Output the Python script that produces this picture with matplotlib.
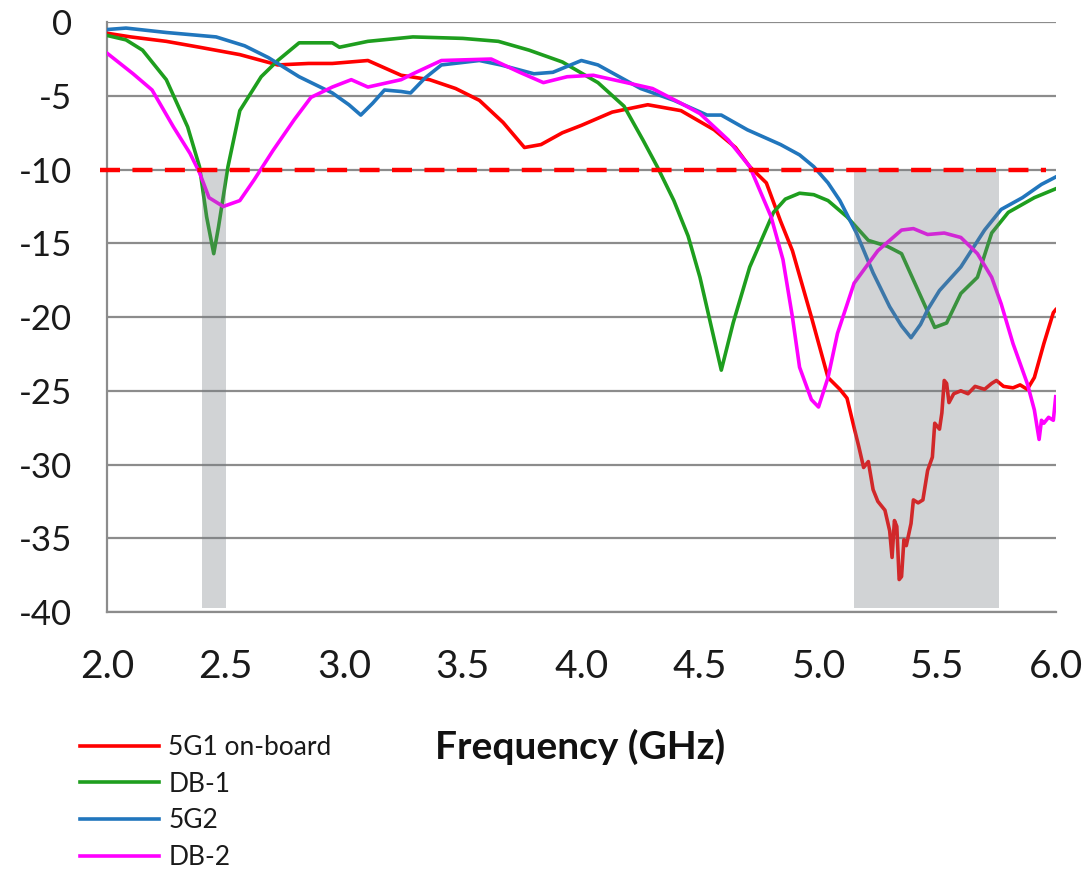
import matplotlib
matplotlib.use("Agg")
import matplotlib.pyplot as plt

# ---------------- data ----------------
f_red = [2.00, 2.10, 2.25, 2.39, 2.56, 2.72, 2.85, 2.95, 3.10, 3.24, 3.36, 3.47, 3.57, 3.67, 3.76, 3.83,
         3.92, 4.00, 4.13, 4.28, 4.42, 4.56, 4.65, 4.71, 4.78, 4.84, 4.89, 4.97, 5.04, 5.09, 5.12, 5.15,
         5.17, 5.19, 5.21, 5.23, 5.25, 5.28, 5.30, 5.31, 5.32, 5.33, 5.34, 5.35, 5.36, 5.37, 5.39, 5.40,
         5.42, 5.44, 5.46, 5.48, 5.49, 5.51, 5.52, 5.53, 5.54, 5.55, 5.57, 5.60, 5.63, 5.66, 5.70, 5.73,
         5.75, 5.78, 5.82, 5.85, 5.88, 5.91, 5.95, 5.99, 6.00]
s_red = [-0.75, -1.0, -1.3, -1.7, -2.2, -2.9, -2.8, -2.8, -2.6, -3.6, -3.9, -4.5, -5.3, -6.8, -8.5, -8.3,
         -7.5, -7.0, -6.1, -5.6, -6.0, -7.3, -8.5, -9.8, -10.9, -13.5, -15.5, -20.0, -24.1, -24.9, -25.5, -27.5,
         -28.8, -30.2, -29.8, -31.7, -32.5, -33.1, -34.5, -36.3, -33.8, -34.2, -37.8, -37.6, -35.1, -35.5, -34.0, -32.4,
         -32.6, -32.4, -30.4, -29.5, -27.2, -27.6, -26.5, -24.3, -24.5, -25.8, -25.2, -25.0, -25.2, -24.7, -24.9, -24.5,
         -24.3, -24.7, -24.8, -24.6, -24.9, -24.1, -21.8, -19.7, -19.5]

f_green = [2.00, 2.08, 2.15, 2.25, 2.34, 2.39, 2.42, 2.45, 2.47, 2.51, 2.56, 2.65, 2.72, 2.81, 2.95, 2.98,
           3.10, 3.29, 3.50, 3.65, 3.78, 3.92, 4.07, 4.18, 4.26, 4.32, 4.39, 4.45, 4.50, 4.55, 4.59, 4.64,
           4.71, 4.81, 4.86, 4.92, 4.98, 5.04, 5.12, 5.21, 5.29, 5.35, 5.42, 5.49, 5.54, 5.60, 5.67, 5.73,
           5.80, 5.91, 6.00]
s_green = [-0.9, -1.2, -1.9, -3.9, -7.1, -9.8, -13.2, -15.7, -13.9, -9.8, -6.0, -3.7, -2.6, -1.4, -1.4, -1.7,
           -1.3, -1.0, -1.1, -1.3, -1.9, -2.7, -4.1, -5.7, -8.0, -9.8, -12.1, -14.5, -17.3, -20.8, -23.6, -20.4,
           -16.6, -12.9, -12.0, -11.6, -11.7, -12.1, -13.2, -14.8, -15.2, -15.7, -18.2, -20.7, -20.4, -18.4, -17.3, -14.3,
           -12.9, -11.9, -11.3]

f_blue = [2.00, 2.08, 2.25, 2.46, 2.58, 2.68, 2.81, 2.95, 3.02, 3.07, 3.12, 3.17, 3.24, 3.28, 3.34, 3.41,
          3.57, 3.66, 3.80, 3.88, 4.00, 4.07, 4.25, 4.39, 4.53, 4.59, 4.70, 4.84, 4.92, 4.98, 5.04, 5.09,
          5.16, 5.23, 5.30, 5.35, 5.39, 5.43, 5.46, 5.51, 5.60, 5.70, 5.77, 5.86, 5.94, 6.00]
s_blue = [-0.5, -0.4, -0.7, -1.0, -1.6, -2.4, -3.7, -4.8, -5.6, -6.3, -5.5, -4.6, -4.7, -4.8, -3.8, -2.9,
          -2.6, -2.9, -3.5, -3.4, -2.6, -2.9, -4.5, -5.3, -6.3, -6.3, -7.3, -8.3, -9.0, -9.8, -10.9, -12.1,
          -14.3, -17.0, -19.3, -20.6, -21.4, -20.5, -19.5, -18.2, -16.6, -14.1, -12.7, -11.9, -11.0, -10.5]

f_mag = [2.00, 2.11, 2.19, 2.28, 2.35, 2.39, 2.43, 2.49, 2.56, 2.62, 2.70, 2.79, 2.86, 2.95, 3.03, 3.10,
         3.24, 3.29, 3.41, 3.62, 3.74, 3.84, 3.94, 4.05, 4.19, 4.30, 4.42, 4.50, 4.62, 4.71, 4.80, 4.85,
         4.89, 4.92, 4.97, 5.00, 5.04, 5.08, 5.15, 5.25, 5.35, 5.40, 5.46, 5.53, 5.60, 5.67, 5.73, 5.77,
         5.82, 5.88, 5.91, 5.93, 5.94, 5.95, 5.97, 5.99, 6.00]
s_mag = [-2.1, -3.5, -4.6, -7.1, -8.9, -10.2, -11.9, -12.5, -12.1, -10.7, -8.7, -6.6, -5.1, -4.4, -3.9, -4.4,
         -3.9, -3.5, -2.6, -2.5, -3.4, -4.1, -3.7, -3.6, -4.1, -4.5, -5.5, -6.2, -8.0, -9.8, -13.2, -16.1,
         -20.0, -23.4, -25.6, -26.1, -24.1, -21.1, -17.7, -15.5, -14.1, -14.0, -14.4, -14.3, -14.6, -15.7, -17.3, -19.1,
         -21.8, -24.5, -26.3, -28.3, -27.0, -27.2, -26.8, -27.0, -25.4]

series_names = ["5G1 on-board", "DB-1", "5G2", "DB-2"]
series_colors = ["#ff0000", "#1e9e1e", "#2176bd", "#ff00ff"]

bands = [(2.40, 2.50), (5.15, 5.76)]
threshold = -10
x_ticks = [2.0, 2.5, 3.0, 3.5, 4.0, 4.5, 5.0, 5.5, 6.0]
y_ticks = [0, -5, -10, -15, -20, -25, -30, -35, -40]

# ---------------- plot ----------------
plt.rcParams['font.family'] = ['Lato', 'DejaVu Sans']

fig = plt.figure(figsize=(10.83, 8.73), dpi=100)
ax = fig.add_axes([0.0988, 0.299, 0.876, 0.6756])

ax.set_xlim(2.0, 6.0)
ax.set_ylim(-40, 0)

grid_c = "#8c8c8c"
for yv in y_ticks:
    ax.axhline(yv, color=grid_c, lw=1.6, zorder=1)

data = [(f_red, s_red), (f_green, s_green), (f_blue, s_blue), (f_mag, s_mag)]
handles = []
for (fx, sy), name, col in zip(data, series_names, series_colors):
    h, = ax.plot(fx, sy, color=col, lw=2.6, label=name, zorder=3, solid_joinstyle='round')
    handles.append(h)

for (a, b) in bands:
    ax.fill_between([a, b], [-39.7, -39.7], [threshold, threshold], color="#757b81",
                    alpha=0.333, lw=0, zorder=4)

ax.plot([1.97, 5.96], [threshold, threshold], color="#ff0000", lw=3.2,
        dashes=(4.5, 2.8), zorder=5, clip_on=False)

for sp in ["top", "right"]:
    ax.spines[sp].set_visible(False)
for sp in ["left", "bottom"]:
    ax.spines[sp].set_color(grid_c)
    ax.spines[sp].set_linewidth(1.6)

ax.set_xticks(x_ticks)
ax.set_xticklabels([f"{v:.1f}" for v in x_ticks])
ax.set_yticks(y_ticks)
ax.set_yticklabels([f"{v}" for v in y_ticks])
ax.tick_params(axis='both', length=0, colors="#1a1a1a")
ax.tick_params(axis='y', pad=25, labelsize=25)
ax.tick_params(axis='x', pad=27, labelsize=28)

fig.text(0.5355, 0.144, "Frequency (GHz)", fontsize=28, fontweight='bold',
         ha='center', va='center', color="#111111")

leg = fig.legend(handles=handles, labels=series_names, loc='upper left',
                 bbox_to_anchor=(0.0739, 0.158), frameon=False, fontsize=19,
                 handlelength=3.0, handletextpad=0.35, labelspacing=0.44,
                 borderaxespad=0, borderpad=0)
for t in leg.get_texts():
    t.set_color("#1a1a1a")

fig.savefig("out.png", dpi=100)
